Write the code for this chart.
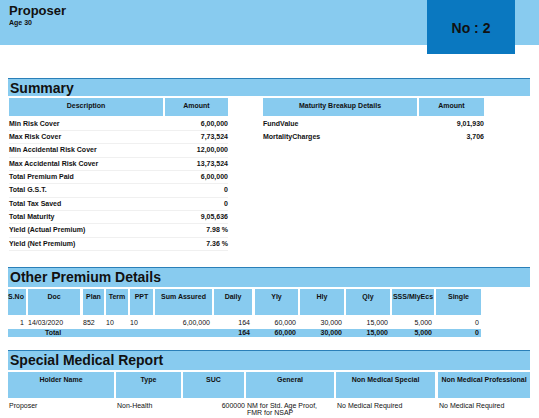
<!DOCTYPE html>
<html><head><meta charset="utf-8">
<script src="https://cdn.jsdelivr.net/npm/chart.js"></script>
<style>
body{margin:0;width:539px;height:418px;background:#fff;font-family:"Liberation Sans",Arial,sans-serif;position:relative;overflow:hidden;color:#111}
.a{position:absolute;box-sizing:border-box;white-space:nowrap}
.band{background:#88CBEF}
.hc{background:#88CBEF;font-weight:bold;font-size:7px;text-align:center;padding-top:4px}
.t{font-size:7px}
.b{font-weight:bold}
.sec{background:#88CBEF;border-top:1px solid #2a7fb8;font-weight:bold;font-size:14px;padding-left:2px;line-height:18px}
</style></head><body>
<script>
const summaryLabels=["Min Risk Cover","Max Risk Cover","Min Accidental Risk Cover","Max Accidental Risk Cover","Total Premium Paid","Total G.S.T.","Total Tax Saved","Total Maturity","Yield (Actual Premium)","Yield (Net Premium)"];
const summaryValues=["6,00,000","7,73,524","12,00,000","13,73,524","6,00,000","0","0","9,05,636","7.98 %","7.36 %"];
const maturityLabels=["FundValue","MortalityCharges"];
const maturityValues=["9,01,930","3,706"];
const premiumHeaders=["S.No","Doc","Plan","Term","PPT","Sum Assured","Daily","Yly","Hly","Qly","SSS/MlyEcs","Single"];
const premiumRow=["1","14/03/2020","852","10","10","6,00,000","164","60,000","30,000","15,000","5,000","0"];
const premiumTotal=["","Total","","","","","164","60,000","30,000","15,000","5,000","0"];
const medicalHeaders=["Holder Name","Type","SUC","General","Non Medical Special","Non Medical Professional"];
const medicalRow=["Proposer","Non-Health","600000","NM for Std. Age Proof,<br>FMR for NSAP","No Medical Required","No Medical Required"];

const B=document.body;
function d(x,y,w,h,cls,html,st){const e=document.createElement('div');e.className='a '+cls;Object.assign(e.style,{left:x+'px',top:y+'px',width:w+'px',height:h+'px'},st||{});e.innerHTML=html;B.appendChild(e);return e;}
d(0,0,539,45,'band','');
d(9,3,200,16,'b','Proposer',{fontSize:'13px'});
d(9,19,100,10,'b','Age 30',{fontSize:'7px'});
d(427,0,88,54,'','No : 2',{background:'#0A78C0',fontWeight:'bold',fontSize:'14px',textAlign:'center',lineHeight:'56px'});
d(8,78,522,18,'sec','Summary');
d(9,98,154,18,'hc','Description');d(165,98,63,18,'hc','Amount');
d(263,98,154,18,'hc','Maturity Breakup Details');d(419,98,65,18,'hc','Amount');
summaryLabels.forEach((l,i)=>{const y=119.5+i*13.35;
 d(9,y,154,10,'t b',l);d(165,y,63,10,'t b',summaryValues[i],{textAlign:'right'});
 d(9,y+10.5,219,1,'','',{background:'#f0f0f0'});});
maturityLabels.forEach((l,i)=>{const y=119.5+i*13.35;
 d(263,y,154,10,'t b',l);d(419,y,65,10,'t b',maturityValues[i],{textAlign:'right'});});
d(8,267,522,20,'sec','Other Premium Details');
const pc=[[8,18],[28,52],[83,21],[106,22],[130,23],[155,57],[214,38],[255,43],[300,44],[346,44],[392,42],[436,45]];
const pAlign=['right','left','left','left','left','right','right','right','right','right','right','right'];
premiumHeaders.forEach((h,i)=>{d(pc[i][0],289,pc[i][1],26,'hc',h,i==0?{textAlign:'left'}:{});
 d(pc[i][0],319,pc[i][1],9,'t',premiumRow[i],{textAlign:pAlign[i],paddingRight:'2px'});});
d(8,329,473,8,'band','');
premiumTotal.forEach((h,i)=>{d(pc[i][0],329,pc[i][1],8,'t b',h,{textAlign:i==1?'center':'right',paddingRight:'2px',lineHeight:'8px'});});
d(8,350,522,20,'sec','Special Medical Report');
const mc=[[8,106],[116,65],[183,61],[246,88],[336,99],[438,92]];
medicalHeaders.forEach((h,i)=>{d(mc[i][0],372,mc[i][1],26,'hc',h);
 d(mc[i][0]+1,402,mc[i][1],20,'t',medicalRow[i],{textAlign:i==2?'right':'left',lineHeight:'7px'});});
</script>
</body></html>
